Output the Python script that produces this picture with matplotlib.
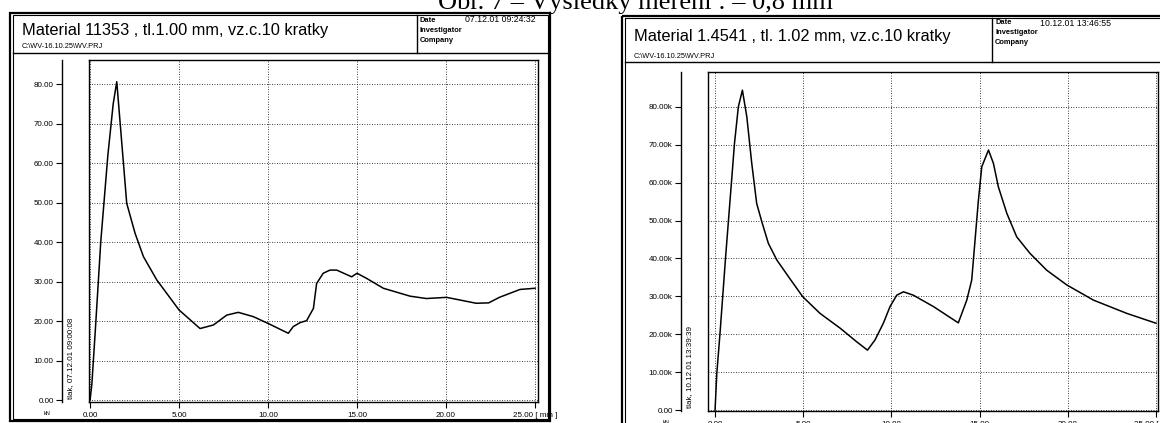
import matplotlib
matplotlib.use("Agg")
import matplotlib.pyplot as plt
from matplotlib.patches import Rectangle

# --------------------------------------------------------------
# data
x_11353 = [0.0, 0.1, 0.3, 0.6, 1.0, 1.3, 1.5, 2.06, 2.53, 3.0, 3.75, 5.0, 6.18,
           6.93, 7.68, 8.33, 9.18, 10.0, 11.14, 11.42, 11.8, 12.17, 12.55, 12.73,
           13.1, 13.48, 13.86, 14.7, 15.0, 15.54, 16.48, 17.98, 18.9, 20.03,
           21.7, 22.4, 23.0, 24.16, 25.0]
y_11353 = [0.0, 4.0, 18.0, 40.0, 62.0, 75.0, 80.6, 49.8, 42.2, 36.3, 30.4, 22.8, 18.1,
           19.0, 21.5, 22.2, 21.1, 19.4, 16.9, 18.6, 19.6, 20.1, 23.2, 29.5,
           32.1, 32.9, 32.9, 31.2, 32.1, 30.8, 28.3, 26.3, 25.7, 26.0,
           24.5, 24.6, 26.0, 28.0, 28.3]

x_14541 = [0.0, 0.1, 0.28, 0.6, 0.94, 1.1, 1.32, 1.55, 1.8, 2.08, 2.36, 2.65, 3.02,
           3.5, 4.16, 4.97, 5.95, 7.09, 8.03, 8.64, 9.07, 9.54, 9.92, 10.3, 10.68,
           11.24, 12.38, 13.79, 14.27, 14.55, 14.74, 14.93, 15.12, 15.5, 15.78,
           16.06, 16.54, 17.1, 17.86, 18.8, 19.94, 21.45, 23.34, 25.0]
y_14541 = [0.0, 9.7, 20.2, 40.5, 60.7, 70.3, 80.0, 84.4, 77.4, 65.1, 54.5, 49.7, 44.0,
           39.6, 35.2, 29.9, 25.5, 21.6, 18.0, 15.8, 18.5, 22.9, 27.3, 30.3, 31.2,
           30.3, 27.3, 23.0, 29.0, 34.3, 44.9, 55.4, 64.2, 68.6, 65.1,
           58.9, 51.9, 45.7, 41.3, 36.9, 33.0, 29.0, 25.5, 22.9]

x_ticks = [0, 5, 10, 15, 20, 25]
x_ticklabels = ["0.00", "5.00", "10.00", "15.00", "20.00", "25.00 [ mm ]"]
y_ticks = [0, 10, 20, 30, 40, 50, 60, 70, 80]
y_labels_left = ["%.2f" % v for v in y_ticks]
y_labels_right = ["0.00"] + ["%.2fk" % v for v in y_ticks[1:]]

caption = "Obr. 7 – Výsledky měření : – 0,8 mm"
title_left = "Material 11353 , tl.1.00 mm, vz.c.10 kratky"
title_right = "Material 1.4541 , tl. 1.02 mm, vz.c.10 kratky"
path_txt = "C:\\WV-16.10.25\\WV.PRJ"
date_left = "07.12.01 09:24:32"
date_right = "10.12.01 13:46:55"
rot_left = "tlak, 07.12.01 09:00:08"
rot_right = "tlak, 10.12.01 13:39:39"
# --------------------------------------------------------------

W, H = 1160, 423
plt.rcParams['font.family'] = ['Liberation Sans', 'DejaVu Sans']
fig = plt.figure(figsize=(W / 100, H / 100), dpi=100)

# pozadi v pixelech (ramecky, hlavicky)
bg = fig.add_axes([0, 0, 1, 1])
bg.set_xlim(0, W)
bg.set_ylim(H, 0)
bg.axis("off")


def box(x0, y0, x1, y1, lw=1.0):
  bg.add_patch(Rectangle((x0, y0), x1 - x0, y1 - y0, fill=False, lw=lw, ec="black"))


def px_axes(x0, y0, x1, y1):
  return fig.add_axes([x0 / W, 1 - y1 / H, (x1 - x0) / W, (y1 - y0) / H])


bg.text(635, 9, caption, fontsize=19, family="Liberation Serif", ha="center", va="baseline")


def panel(fx0, fy0, fx1, fy1, hdr_y, div_x, title_dy, title, date, rot, plot, xr, yr, xs, ys, ylabels):
  # ramecek + hlavicka
  box(fx0, fy0, fx1, fy1, lw=1.6)
  box(fx0 + 3, fy0 + 2, fx1 - 2, fy1 - 2, lw=0.8)
  bg.plot([fx0 + 3, fx1 - 2], [hdr_y, hdr_y], color="black", lw=1.0)
  bg.plot([div_x, div_x], [fy0 + 2, hdr_y], color="black", lw=1.0)
  bg.text(fx0 + 12, fy0 + title_dy, title, fontsize=11.8, va="center")
  bg.text(fx0 + 12, hdr_y - 6, path_txt, fontsize=5.3, va="center")
  for i, t in enumerate(["Date", "Investigator", "Company"]):
    bg.text(div_x + 3, fy0 + 7 + 10 * i, t, fontsize=5.4, va="center", fontweight="bold")
  bg.text(div_x + 48, fy0 + 7, date, fontsize=6.3, va="center")

  # graf
  ax = px_axes(*plot)
  ax.plot(xs, ys, color="black", linewidth=1.1)
  ax.set_xlim(*xr)
  ax.set_ylim(*yr)
  ax.set_xticks(x_ticks)
  ax.set_xticklabels(x_ticklabels, fontsize=5.8)
  ax.set_yticks(y_ticks)
  ax.tick_params(axis="y", left=False, labelleft=False)
  ax.tick_params(axis="x", direction="out", length=4, width=0.8, pad=3)
  ax.grid(True, color="black", linestyle=(0, (1, 2)), linewidth=0.6)
  for s in ax.spines.values():
    s.set_linewidth(1.0)

  # samostatna osa y vlevo
  loc = -27 / (plot[2] - plot[0])
  sec = ax.secondary_yaxis(loc)
  sec.set_yticks(y_ticks)
  sec.set_yticklabels(ylabels, fontsize=5.8)
  sec.tick_params(direction="out", length=4, width=0.8, pad=2)
  sec.spines["left"].set_linewidth(1.0)

  ax.text(loc - 0.033, -0.035, "kN", transform=ax.transAxes, fontsize=4, ha="center", va="center")
  ax.text(loc + 0.019, 0.01, rot, transform=ax.transAxes, fontsize=5.8, rotation=90,
          ha="center", va="bottom")
  return ax


panel(10, 13, 550, 421, 53, 417, 17, title_left, date_left, rot_left,
      (89, 60, 538, 402), (-0.06, 25.17), (-0.5, 86.1), x_11353, y_11353, y_labels_left)
panel(622, 16, 1168, 432, 62, 992, 20, title_right, date_right, rot_right,
      (708, 72, 1158, 411), (-0.4, 25.11), (-0.26, 89.2), x_14541, y_14541, y_labels_right)

fig.savefig("out.png", dpi=100)
